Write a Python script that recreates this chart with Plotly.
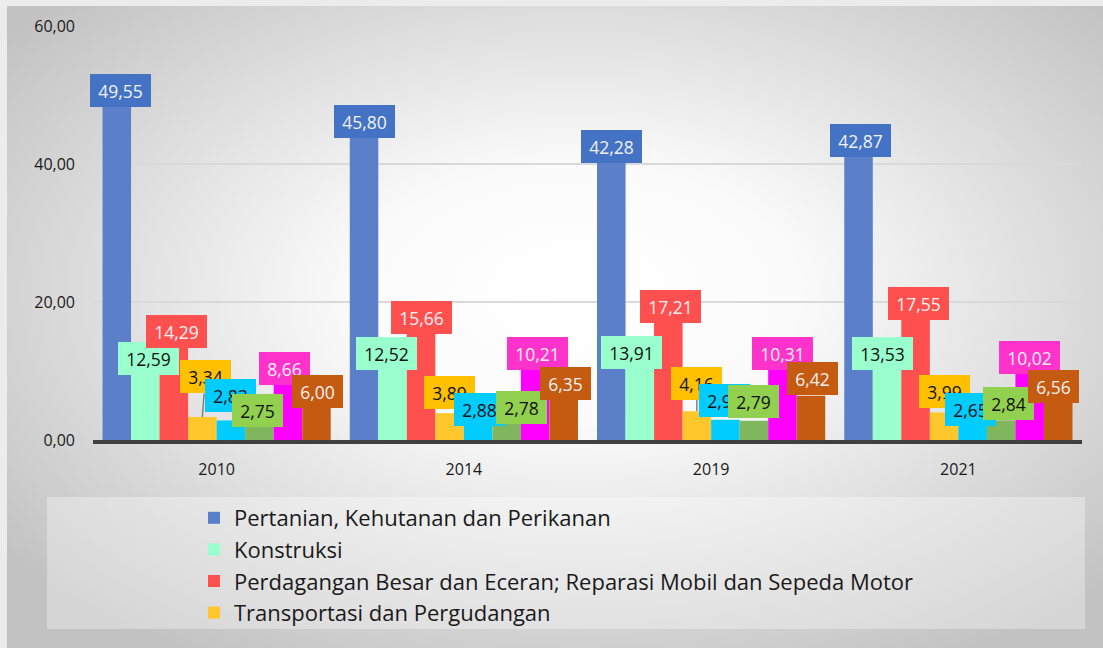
import base64
import plotly.graph_objects as go

# Share of workers by main sector (%)
years = ["2010", "2014", "2019", "2021"]

pertanian = [49.55, 45.80, 42.28, 42.87]
konstruksi = [12.59, 12.52, 13.91, 13.53]
perdagangan = [14.29, 15.66, 17.21, 17.55]
transportasi = [3.34, 3.89, 4.16, 3.99]
administrasi = [2.83, 2.88, 2.93, 2.65]
akomodasi = [2.75, 2.78, 2.79, 2.84]
industri = [8.66, 10.21, 10.31, 10.02]
pendidikan = [6.00, 6.35, 6.42, 6.56]

series = [
    ("Pertanian, Kehutanan dan Perikanan", pertanian),
    ("Konstruksi", konstruksi),
    ("Perdagangan Besar dan Eceran; Reparasi Mobil dan Sepeda Motor", perdagangan),
    ("Transportasi dan Pergudangan", transportasi),
    ("Administrasi Pemerintahan", administrasi),
    ("Penyediaan Akomodasi dan Makan Minum", akomodasi),
    ("Industri Pengolahan", industri),
    ("Jasa Pendidikan", pendidikan),
]

bar_colors = ["#5B80C9", "#99FFCC", "#FF5050", "#FFC72C",
              "#00CCFF", "#80B65E", "#FF00FF", "#C55A11"]
box_colors = ["#4472C4", "#99FFCC", "#FF5050", "#FFC000",
              "#00CCFF", "#92D050", "#FF33CC", "#C55A11"]
text_colors = ["#F2F2F2", "#111111", "#F2F2F2", "#111111",
               "#111111", "#111111", "#F2F2F2", "#F2F2F2"]
legend_shown = [True, True, True, True, False, False, False, False]

# hand-placed data label nudges in pixels (dx right, dy up), per series / year
label_dx = [
    [4, 0, 0, 2],
    [3, -6, -8, -5],
    [3, 0, 2, 3],
    [3, 0, 0, 0],
    [0, 1, -1, -2],
    [-2, 15, 0, 7],
    [-3, 2, 0, 0],
    [1, 2, 2, -5],
]
label_dy = [
    [8, 2, 2, 4],
    [-5, 0, -8, -7],
    [10, 14, 15, 15],
    [40, 21, 28, 21],
    [25, 11, 19, 12],
    [11, 13, 19, 17],
    [12, 16, 15, 13],
    [7, 13, 17, 8],
]
# labels joined to their bar by a leader line
leaders = {(3, 0), (3, 2)}

W, H = 1103, 648
plot_left, plot_right, plot_top, plot_bottom = 93, 1082, 26, 440
bargap = 0.077
n = len(series)
bar_w = (1 - bargap) / n

fig = go.Figure()
xs = list(range(len(years)))
for k, (name, vals) in enumerate(series):
    fig.add_trace(go.Bar(
        x=xs, y=vals, name=name,
        marker=dict(color=bar_colors[k], line=dict(width=0)),
        showlegend=legend_shown[k],
        legendgroup=name,
        hoverinfo="y+name",
    ))

annotations = []
for k, (name, vals) in enumerate(series):
    off = -(1 - bargap) / 2 + (k + 0.5) * bar_w
    for i, v in enumerate(vals):
        txt = f"{v:.2f}".replace(".", ",")
        common = dict(
            x=i + off, y=v, xref="x", yref="y",
            text=txt,
            font=dict(family="Open Sans", size=17.5, color=text_colors[k]),
            bgcolor=box_colors[k], borderpad=0, borderwidth=0,
            width=10 * len(txt) + 11, height=33,
            xanchor="center", yanchor="middle",
        )
        if (k, i) in leaders:
            annotations.append(dict(
                **common, showarrow=True, arrowhead=0, arrowwidth=1.5,
                arrowcolor="#808080", standoff=0,
                ax=label_dx[k][i], ay=-label_dy[k][i],
            ))
        else:
            annotations.append(dict(
                **common, showarrow=False,
                xshift=label_dx[k][i], yshift=label_dy[k][i],
            ))

# soft radial backdrop behind the whole chart
svg = (
    f'<svg xmlns="http://www.w3.org/2000/svg" width="{W}" height="{H}" '
    f'viewBox="0 0 {W} {H}" preserveAspectRatio="none">'
    '<defs><radialGradient id="g" cx="52%" cy="45%" r="66%">'
    '<stop offset="0%" stop-color="#ffffff"/>'
    '<stop offset="30%" stop-color="#fbfbfb"/>'
    '<stop offset="100%" stop-color="#c2c2c2"/>'
    '</radialGradient></defs>'
    f'<rect width="{W}" height="{H}" fill="url(#g)"/></svg>'
)
bg_src = "data:image/svg+xml;base64," + base64.b64encode(svg.encode()).decode()

fig.update_layout(
    width=W, height=H,
    margin=dict(l=0, r=0, t=0, b=0, autoexpand=False),
    paper_bgcolor="#ececec",
    plot_bgcolor="rgba(0,0,0,0)",
    separators=",.",
    barmode="group",
    bargap=bargap,
    bargroupgap=0,
    font=dict(family="Open Sans", color="#1a1a1a"),
    images=[dict(
        source=bg_src, xref="paper", yref="paper",
        x=7 / W, y=1 - 6 / H, sizex=1 - 7 / W, sizey=1 - 6 / H,
        xanchor="left", yanchor="top", sizing="stretch", layer="below",
    )],
    shapes=[dict(
        type="rect", xref="paper", yref="paper", layer="below",
        x0=47 / W, x1=1085 / W, y0=1 - 629 / H, y1=1 - 497 / H,
        fillcolor="rgba(255,255,255,0.33)", line=dict(width=0),
    )],
    xaxis=dict(
        domain=[plot_left / W, plot_right / W],
        range=[-0.5, len(years) - 0.5],
        tickvals=xs, ticktext=years,
        showgrid=False, zeroline=False, automargin=False,
        showline=True, linecolor="#404040", linewidth=4,
        ticks="", ticklabelstandoff=12,
        tickfont=dict(size=16, color="#1a1a1a"),
    ),
    yaxis=dict(
        domain=[1 - plot_bottom / H, 1 - plot_top / H],
        range=[0, 60], tickvals=[0, 20, 40, 60],
        tickformat=".2f", automargin=False,
        showgrid=True, gridcolor="#d9d9d9", gridwidth=2,
        zeroline=False, showline=False, ticks="",
        ticklabelstandoff=17,
        tickfont=dict(size=16, color="#1a1a1a"),
    ),
    legend=dict(
        x=194 / W, y=1 - 497 / H, xanchor="left", yanchor="top",
        orientation="v", traceorder="grouped", tracegroupgap=0,
        bgcolor="rgba(0,0,0,0)",
        font=dict(family="Open Sans", size=22, color="#1a1a1a"),
    ),
    annotations=annotations,
)

fig.write_html("out.html")
